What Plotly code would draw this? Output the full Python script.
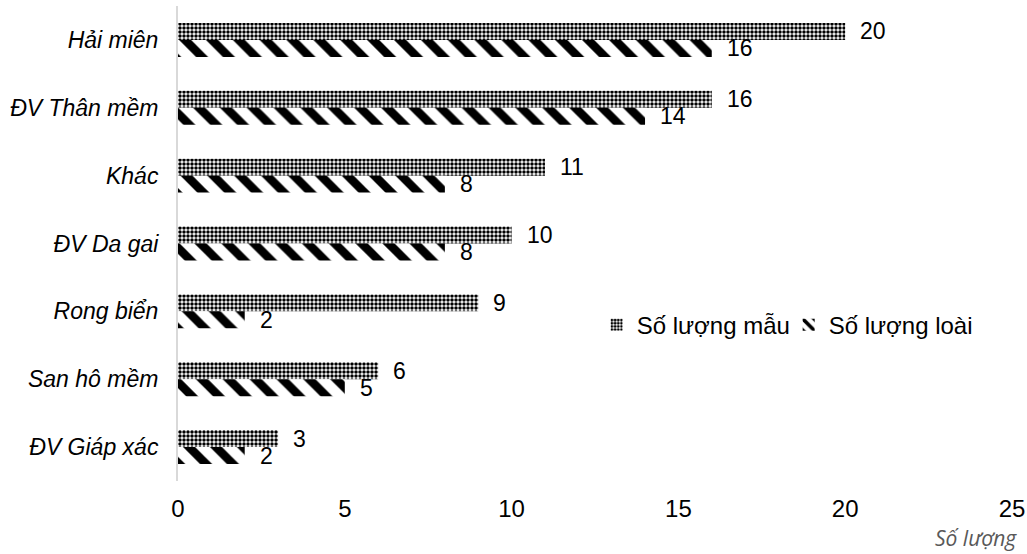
import plotly.graph_objects as go

# Data: groups listed top to bottom
categories = ["Hải miên", "ĐV Thân mềm", "Khác", "ĐV Da gai",
              "Rong biển", "San hô mềm", "ĐV Giáp xác"]
so_luong_mau = [20, 16, 11, 10, 9, 6, 3]
so_luong_loai = [16, 14, 8, 8, 2, 5, 2]
x_ticks = [0, 5, 10, 15, 20, 25]

FONT = "Liberation Sans, Arial, sans-serif"
FS = 24

fig = go.Figure()
fig.add_trace(go.Bar(
    name="Số lượng mẫu", y=categories, x=so_luong_mau, orientation="h",
    marker=dict(color="white", line=dict(width=0),
                pattern=dict(shape=".", size=4, solidity=0.6, fgopacity=1,
                             fgcolor="black", bgcolor="white")),
))
fig.add_trace(go.Bar(
    name="Số lượng loài", y=categories, x=so_luong_loai, orientation="h",
    marker=dict(color="white", line=dict(width=0),
                pattern=dict(shape="\\", size=19, solidity=0.45, fgopacity=1,
                             fgcolor="black", bgcolor="white")),
))

# Value labels placed just right of each bar end
annotations = []
for vals, shift in ((so_luong_mau, 8.5), (so_luong_loai, -8.5)):
    for cat, v in zip(categories, vals):
        annotations.append(dict(
            x=v, y=cat, xref="x", yref="y", text=str(v), showarrow=False,
            xanchor="left", yanchor="middle", xshift=13, yshift=shift,
            font=dict(family=FONT, size=23, color="black"),
        ))

# Axis title in the lower-right corner
annotations.append(dict(
    x=1.0, y=0, xref="paper", yref="paper", text="<i>Số lượng</i>",
    showarrow=False, xanchor="right", yanchor="bottom", yshift=-73, xshift=7,
    font=dict(family="Open Sans, sans-serif", size=21, color="#595959"),
))

fig.update_layout(
    width=1027, height=554,
    margin=dict(l=178, r=15, t=6, b=73),
    paper_bgcolor="white", plot_bgcolor="white",
    barmode="group", bargap=0.5, bargroupgap=0,
    showlegend=True,
    legend=dict(orientation="h", x=0.502, y=0.328, xanchor="left", yanchor="middle",
                font=dict(family=FONT, size=FS, color="black"),
                itemwidth=30, entrywidth=147, entrywidthmode="pixels",
                bgcolor="rgba(0,0,0,0)"),
    annotations=annotations,
    font=dict(family=FONT, size=FS, color="black"),
)
fig.update_xaxes(range=[0, 25], tickvals=x_ticks, showgrid=False, zeroline=False,
                 showline=False, ticks="", ticklabelstandoff=11, automargin=False,
                 tickfont=dict(family=FONT, size=FS))
fig.update_yaxes(autorange="reversed", showgrid=False, showline=True,
                 linecolor="#d9d9d9", linewidth=2, ticks="", ticklabelstandoff=13,
                 automargin=False,
                 tickfont=dict(family=FONT, size=23, style="italic"))

fig.write_html("out.html")
